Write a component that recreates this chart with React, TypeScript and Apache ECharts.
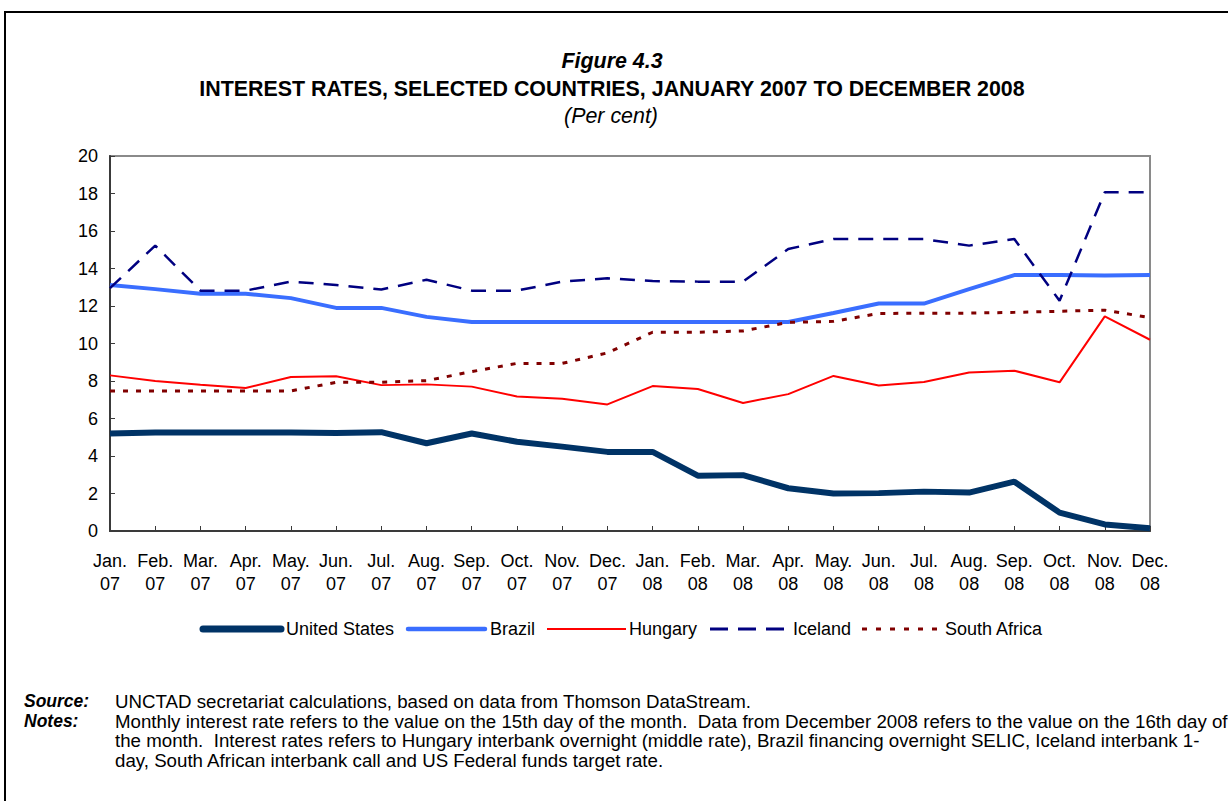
import React, { useEffect, useRef } from "react";
import * as echarts from "echarts";

const monthNames = ["Jan.", "Feb.", "Mar.", "Apr.", "May.", "Jun.", "Jul.", "Aug.", "Sep.", "Oct.", "Nov.", "Dec."];
const years = ["07", "08"];
const categories: string[] = years.flatMap((y) => monthNames.map((m) => `${m}\n${y}`));

const yTicks = { min: 0, max: 20, interval: 2 };

const unitedStates = [5.2, 5.25, 5.25, 5.25, 5.25, 5.23, 5.27, 4.68, 5.2, 4.76, 4.5, 4.22, 4.22, 2.95, 2.98, 2.28, 2.0, 2.02, 2.1, 2.05, 2.63, 0.98, 0.35, 0.15];
const brazil = [13.12, 12.9, 12.65, 12.65, 12.42, 11.9, 11.9, 11.42, 11.15, 11.15, 11.15, 11.15, 11.15, 11.15, 11.15, 11.15, 11.63, 12.13, 12.13, 12.9, 13.65, 13.65, 13.63, 13.65];
const hungary = [8.3, 8.0, 7.8, 7.63, 8.21, 8.25, 7.78, 7.82, 7.7, 7.17, 7.05, 6.75, 7.73, 7.57, 6.83, 7.3, 8.27, 7.76, 7.95, 8.45, 8.55, 7.93, 11.45, 10.2];
const iceland = [12.95, 15.22, 12.82, 12.82, 13.3, 13.12, 12.88, 13.4, 12.82, 12.82, 13.3, 13.48, 13.33, 13.3, 13.3, 15.04, 15.57, 15.57, 15.57, 15.22, 15.57, 12.28, 18.07, 18.07];
const southAfrica = [7.47, 7.47, 7.47, 7.47, 7.47, 7.93, 7.93, 8.02, 8.5, 8.94, 8.94, 9.5, 10.6, 10.6, 10.67, 11.13, 11.18, 11.6, 11.62, 11.62, 11.66, 11.72, 11.78, 11.38];

const FONT = "'Liberation Sans', Arial, sans-serif";

const seriesDefs = [
  { name: "United States", data: unitedStates, color: "#003366", width: 6, dash: "solid" as any, legend: { x1: 203, x2: 281, tx: 286, w: 7, dash: null as any } },
  { name: "Brazil", data: brazil, color: "#3A6EFF", width: 4, dash: "solid" as any, legend: { x1: 408, x2: 485, tx: 490, w: 4.5, dash: null as any } },
  { name: "Hungary", data: hungary, color: "#FF0000", width: 2, dash: "solid" as any, legend: { x1: 547, x2: 626, tx: 629, w: 2, dash: null as any } },
  { name: "Iceland", data: iceland, color: "#000080", width: 2.5, dash: [15, 10] as any, legend: { x1: 710, x2: 784, tx: 793, w: 3, dash: [18, 10] as any } },
  { name: "South Africa", data: southAfrica, color: "#800000", width: 3, dash: [5, 8] as any, legend: { x1: 862, x2: 940, tx: 945, w: 3, dash: [5, 9] as any } },
];

const sourceText = "UNCTAD secretariat calculations, based on data from Thomson DataStream.";
const notesLines = [
  "Monthly interest rate refers to the value on the 15th day of the month.  Data from December 2008 refers to the value on the 16th day of",
  "the month.  Interest rates refers to Hungary interbank overnight (middle rate), Brazil financing overnight SELIC, Iceland interbank 1-",
  "day, South African interbank call and US Federal funds target rate.",
];

export default function App() {
  const ref = useRef<HTMLDivElement>(null);
  useEffect(() => {
    if (!ref.current) return;
    const chart = echarts.init(ref.current, undefined, { renderer: "svg" });
    const legendY = 629;
    const noteFont = `18.7px ${FONT}`;
    const graphics: any[] = [
      { type: "rect", shape: { x: 5, y: 12, width: 1400, height: 1000 }, style: { fill: "none", stroke: "#000", lineWidth: 2 }, silent: true },
      { type: "text", x: 612, y: 61, style: { text: "Figure 4.3", font: `italic bold 21.4px ${FONT}`, fill: "#000", align: "center", verticalAlign: "middle" } },
      { type: "text", x: 612, y: 89, style: { text: "INTEREST RATES, SELECTED COUNTRIES, JANUARY 2007 TO DECEMBER 2008", font: `bold 21.4px ${FONT}`, fill: "#000", align: "center", verticalAlign: "middle" } },
      { type: "text", x: 611, y: 116, style: { text: "(Per cent)", font: `italic 21.4px ${FONT}`, fill: "#000", align: "center", verticalAlign: "middle" } },
      { type: "text", x: 24, y: 701, style: { text: "Source:", font: `italic bold 17.5px ${FONT}`, fill: "#000", verticalAlign: "middle" } },
      { type: "text", x: 115, y: 701, style: { text: sourceText, font: noteFont, fill: "#000", verticalAlign: "middle" } },
      { type: "text", x: 24, y: 721, style: { text: "Notes:", font: `italic bold 17.5px ${FONT}`, fill: "#000", verticalAlign: "middle" } },
      ...notesLines.map((t, i) => ({ type: "text", x: 115, y: 721 + i * 19.5, style: { text: t, font: noteFont, fill: "#000", verticalAlign: "middle" } })),
    ];
    seriesDefs.forEach((s) => {
      graphics.push({
        type: "line",
        shape: { x1: s.legend.x1, y1: legendY, x2: s.legend.x2, y2: legendY },
        style: { stroke: s.color, lineWidth: s.legend.w, lineDash: s.legend.dash, lineCap: s.legend.w >= 4 ? "round" : "butt" },
      });
      graphics.push({
        type: "text", x: s.legend.tx, y: legendY,
        style: { text: s.name, font: `18px ${FONT}`, fill: "#000", verticalAlign: "middle" },
      });
    });

    chart.setOption({
      animation: false,
      backgroundColor: "#fff",
      grid: { left: 110, right: 78, top: 156, bottom: 270, show: true, borderColor: "#8a8a8a", borderWidth: 2, backgroundColor: "transparent" },
      xAxis: {
        type: "category",
        data: categories,
        boundaryGap: false,
        axisLine: { lineStyle: { color: "#3a3a3a", width: 2 } },
        axisTick: { inside: true, length: 5, lineStyle: { color: "#3a3a3a", width: 1 } },
        axisLabel: { color: "#000", fontSize: 18, fontFamily: FONT, lineHeight: 23, margin: 18, interval: 0 },
        splitLine: { show: false },
      },
      yAxis: {
        type: "value",
        min: yTicks.min,
        max: yTicks.max,
        interval: yTicks.interval,
        axisLine: { show: true, lineStyle: { color: "#3a3a3a", width: 2 } },
        axisTick: { show: true, inside: true, length: 5, lineStyle: { color: "#3a3a3a", width: 1 } },
        axisLabel: { color: "#000", fontSize: 18, fontFamily: FONT, margin: 12 },
        splitLine: { show: false },
      },
      series: seriesDefs.map((s) => ({
        name: s.name,
        type: "line",
        data: s.data,
        symbol: "none",
        lineStyle: { color: s.color, width: s.width, type: s.dash },
        itemStyle: { color: s.color },
      })),
      graphic: graphics,
    });
    return () => chart.dispose();
  }, []);
  return <div ref={ref} style={{ position: "fixed", left: 0, top: 0, width: 1228, height: 801, background: "#fff" }} />;
}
